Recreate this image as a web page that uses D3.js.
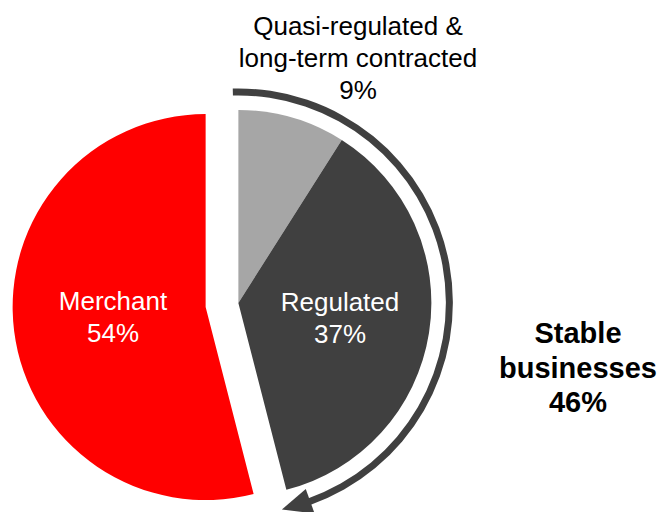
<!DOCTYPE html>
<html>
<head>
<meta charset="utf-8">
<script src="https://cdn.jsdelivr.net/npm/d3@7"></script>
<style>
  html, body { margin: 0; padding: 0; background: #ffffff; }
  svg { display: block; }
  text { font-family: "Liberation Sans", Arial, sans-serif; }
</style>
</head>
<body>
<svg id="chart" width="663" height="512"></svg>
<script>
// Business mix, share of total (%)
const categories = ["Quasi-regulated & long-term contracted", "Regulated", "Merchant"];
const labelLines = [["Quasi-regulated &", "long-term contracted"], ["Regulated"], ["Merchant"]];
const values = [9, 37, 54];
const stableGroup = ["Quasi-regulated & long-term contracted", "Regulated"];
const colors = ["#a6a6a6", "#404040", "#ff0000"];

const svg = d3.select("#chart");
const width = 663, height = 512;

const center = [222, 305];
const radius = 193;
const explode = 16.5;

const data = categories.map((c, i) => ({ name: c, value: values[i], lines: labelLines[i], color: colors[i] }));
const pie = d3.pie().sort(null).value(d => d.value);
const arcs = pie(data);

const isStable = d => stableGroup.includes(d.data.name);
const stableArcs = arcs.filter(isStable);
const stableStart = d3.min(stableArcs, d => d.startAngle);
const stableEnd = d3.max(stableArcs, d => d.endAngle);
const stableTotal = d3.sum(stableArcs, d => d.data.value);

// Each group is pulled away from the centre along its own mid-angle
function groupOffset(d) {
  const a = isStable(d) ? (stableStart + stableEnd) / 2 : (d.startAngle + d.endAngle) / 2;
  return [explode * Math.sin(a), -explode * Math.cos(a)];
}

const arcGen = d3.arc().innerRadius(0).outerRadius(radius);

const g = svg.append("g").attr("transform", `translate(${center[0]},${center[1]})`);

const slices = g.selectAll("g.slice").data(arcs).join("g")
  .attr("class", "slice")
  .attr("transform", d => { const o = groupOffset(d); return `translate(${o[0]},${o[1]})`; });

slices.append("path")
  .attr("d", arcGen)
  .attr("fill", d => d.data.color);

// Arrow wrapping the stable businesses
const sOff = groupOffset(stableArcs[0]);
const arrowR = 211, arrowW = 7;
const arrowG = g.append("g").attr("transform", `translate(${sOff[0]},${sOff[1]})`);
const deg = Math.PI / 180;
const arrowStart = stableStart - 1.5 * deg;
const headBase = stableEnd - 5.5 * deg;
const headTip = stableEnd + 2.5 * deg;
arrowG.append("path")
  .attr("d", d3.arc().innerRadius(arrowR - arrowW / 2).outerRadius(arrowR + arrowW / 2)
    .startAngle(arrowStart).endAngle(headBase + 0.5 * deg)())
  .attr("fill", "#404040");
const polar = (r, a) => [r * Math.sin(a), -r * Math.cos(a)];
const headHalf = 13;
arrowG.append("path")
  .attr("d", d3.line()([
    polar(arrowR - headHalf, headBase),
    polar(arrowR + headHalf, headBase),
    polar(arrowR, headTip)
  ]) + "Z")
  .attr("fill", "#404040");

// In-slice labels
const fs = 26;
const inner = {
  "Regulated": [340, 311],
  "Merchant": [113, 310]
};
arcs.filter(d => inner[d.data.name]).forEach(d => {
  const [x, y] = inner[d.data.name];
  const t = svg.append("text")
    .attr("x", x).attr("y", y)
    .attr("text-anchor", "middle")
    .attr("fill", "#ffffff")
    .attr("font-size", fs);
  t.append("tspan").attr("x", x).attr("dy", 0).text(d.data.lines[0]);
  t.append("tspan").attr("x", x).attr("dy", 32).text(d.data.value + "%");
});

// Outside label for the small slice
const q = arcs[0];
const qt = svg.append("text")
  .attr("x", 358).attr("y", 35)
  .attr("text-anchor", "middle")
  .attr("fill", "#000000")
  .attr("font-size", fs);
q.data.lines.forEach((l, i) => qt.append("tspan").attr("x", 358).attr("dy", i === 0 ? 0 : 32).text(l));
qt.append("tspan").attr("x", 358).attr("dy", 32).text(q.data.value + "%");

// Stable businesses total
const st = svg.append("text")
  .attr("x", 578).attr("y", 343)
  .attr("text-anchor", "middle")
  .attr("font-weight", "bold")
  .attr("font-size", 29)
  .attr("fill", "#000000");
st.append("tspan").attr("x", 578).attr("dy", 0).text("Stable");
st.append("tspan").attr("x", 578).attr("dy", 34.5).text("businesses");
st.append("tspan").attr("x", 578).attr("dy", 34.5).text(stableTotal + "%");
</script>
</body>
</html>
